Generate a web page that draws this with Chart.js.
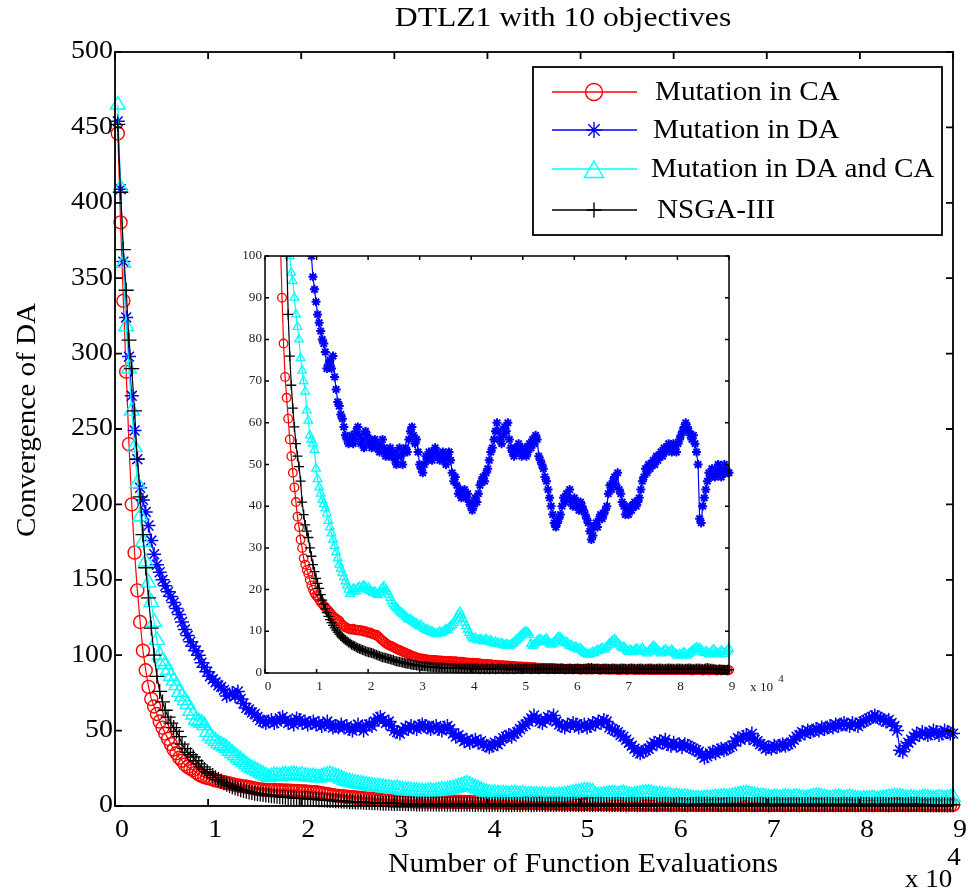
<!DOCTYPE html>
<html>
<head>
<meta charset="utf-8">
<script src="https://cdn.jsdelivr.net/npm/chart.js@4.4.1/dist/chart.umd.min.js"></script>
<style>
html, body { margin: 0; padding: 0; background: #fff; }
#wrap { position: relative; width: 979px; height: 891px; }
#main { position: absolute; left: 0; top: 0; }
#inset { position: absolute; left: 225px; top: 236px; }
</style>
</head>
<body>
<div id="wrap">
  <canvas id="main" width="979" height="891"></canvas>
  <canvas id="inset" width="575" height="470"></canvas>
</div>
<script>
// x en unidades de 10^4 evaluaciones, un punto cada 300 evaluaciones
const paso = 0.03;
const evaluaciones = Array.from({ length: 300 }, (_, i) => +(paso * (i + 1)).toFixed(2));

const ticksX = [0, 1, 2, 3, 4, 5, 6, 7, 8, 9];
const ticksY = [0, 50, 100, 150, 200, 250, 300, 350, 400, 450, 500];
const ticksYInset = [0, 10, 20, 30, 40, 50, 60, 70, 80, 90, 100];

const titulo = 'DTLZ1 with 10 objectives';
const tituloX = 'Number of Function Evaluations';
const tituloY = 'Convergence of DA';

const nombres = ['Mutation in CA', 'Mutation in DA', 'Mutation in DA and CA', 'NSGA-III'];

const mutCA = [
  446, 387, 335, 288, 240, 200, 168, 143, 122, 103,
  90, 79, 71, 66, 61, 56, 52, 48, 44.5, 41,
  37.5, 35, 32, 30, 27.5, 26, 24.7, 23.8, 22.3, 21,
  20, 19.2, 18.6, 18.2, 17.6, 17, 16.6, 16.1, 15.7, 15.3,
  15, 14.5, 14, 13.6, 13.3, 13, 12.8, 12.5, 12, 11.6,
  11.3, 11, 10.8, 10.6, 10.5, 10.4, 10.6, 10.3, 10.4, 10.2,
  10.3, 10.1, 10.2, 9.9, 10, 9.8, 9.6, 9.7, 9.4, 9.3,
  9.1, 9.2, 8.8, 8.5, 8.1, 7.8, 7.5, 7.2, 6.9, 6.7,
  6.5, 6.4, 6.1, 6.0, 5.8, 5.6, 5.5, 5.3, 5.1, 5.0,
  4.8, 4.6, 4.5, 4.3, 4.1, 4.0, 3.9, 3.7, 3.6, 3.5,
  3.5, 3.4, 3.3, 3.3, 3.2, 3.2, 3.1, 3.1, 3.0, 3.1,
  3.0, 3.0, 2.9, 3.0, 2.9, 2.9, 2.8, 2.9, 2.8, 2.8,
  2.8, 2.7, 2.8, 2.7, 2.7, 2.6, 2.7, 2.6, 2.6, 2.5,
  2.5, 2.5, 2.4, 2.5, 2.4, 2.3, 2.4, 2.3, 2.3, 2.2,
  2.2, 2.1, 2.2, 2.1, 2.0, 2.1, 2.0, 1.9, 2.0, 1.9,
  1.9, 1.8, 1.9, 1.8, 1.8, 1.7, 1.8, 1.7, 1.7, 1.6,
  1.7, 1.6, 1.6, 1.5, 1.6, 1.5, 1.5, 1.4, 1.5, 1.4,
  1.4, 1.4, 1.3, 1.4, 1.3, 1.3, 1.2, 1.3, 1.2, 1.2,
  1.2, 1.1, 1.2, 1.1, 1.1, 1.2, 1.1, 1.0, 1.1, 1.0,
  1.0, 1.1, 1.0, 0.9, 1.0, 1.0, 0.9, 1.0, 0.9, 0.9,
  1.0, 0.9, 0.9, 0.8, 0.9, 1.0, 0.9, 0.8, 0.9, 0.9,
  0.8, 0.9, 0.9, 1.0, 0.9, 0.8, 0.8, 0.9, 0.9, 0.8,
  0.9, 0.8, 0.8, 0.9, 0.8, 0.9, 0.8, 0.8, 0.7, 0.8,
  0.8, 0.9, 0.8, 0.7, 0.8, 0.8, 0.9, 0.8, 0.7, 0.8,
  0.8, 0.7, 0.8, 0.8, 0.7, 0.8, 0.8, 0.7, 0.8, 0.7,
  0.7, 0.8, 0.8, 0.7, 0.7, 0.8, 0.7, 0.8, 0.7, 0.7,
  0.8, 0.7, 0.7, 0.8, 0.7, 0.7, 0.7, 0.8, 0.7, 0.7,
  0.7, 0.7, 0.8, 0.7, 0.7, 0.6, 0.7, 0.7, 0.7, 0.8,
  0.7, 0.7, 0.6, 0.7, 0.7, 0.7, 0.6, 0.7, 0.7, 0.7,
  0.7, 0.6, 0.7, 0.7, 0.6, 0.7, 0.7, 0.7, 0.6, 0.7
];

const mutDA = [
  454, 409, 361, 324, 298, 272, 249, 230, 211, 203,
  195, 186, 176, 167, 160, 155, 150, 146, 142, 139,
  135, 131, 127, 122, 117, 113, 109, 106, 103, 100,
  95, 92, 89, 86, 84, 82, 80, 79, 77, 73,
  74, 75, 73, 76, 71, 68, 65, 64, 62, 61,
  59, 57, 56, 55, 56, 57, 55, 56, 58, 59,
  57, 55, 56, 54, 58, 57, 55, 56, 54, 55,
  56, 54, 55, 53, 54, 56, 54, 52, 53, 52,
  54, 52, 53, 51, 50, 52, 54, 52, 50, 53,
  54, 53, 56, 58, 59, 57, 55, 56, 53, 50,
  49, 48, 50, 52, 51, 53, 52, 51, 53, 54,
  53, 52, 51, 52, 53, 51, 50, 52, 53, 51,
  48, 46, 47, 45, 43, 44, 42, 43, 44, 42,
  43, 41, 40, 39, 40, 42, 41, 43, 45, 46,
  47, 46, 48, 49, 51, 53, 54, 56, 58, 60,
  58, 56, 55, 57, 59, 58, 60, 56, 54, 53,
  52, 54, 53, 55, 54, 52, 53, 54, 52, 53,
  55, 54, 56, 55, 57, 56, 52, 51, 50, 49,
  47, 46, 44, 42, 40, 38, 36, 35, 36, 37,
  38, 40, 42, 41, 43, 42, 44, 41, 40, 42,
  40, 41, 39, 41, 40, 39, 38, 37, 36, 34,
  32, 33, 35, 36, 35, 37, 38, 37, 38, 39,
  40, 43, 45, 44, 46, 47, 45, 48, 44, 43,
  41, 40, 38, 39, 38, 40, 39, 40, 41, 40,
  41, 42, 44, 46, 47, 49, 48, 50, 49, 50,
  51, 50, 52, 51, 52, 53, 52, 54, 53, 54,
  55, 54, 53, 55, 54, 53, 55, 56, 57, 58,
  59, 60, 59, 58, 57, 56, 57, 55, 53, 50,
  37, 36, 40, 42, 44, 46, 48, 47, 49, 48,
  47, 48, 50, 49, 47, 48, 50, 49, 48, 48
];

const mutDACA = [
  465, 410, 360, 318, 290, 262, 238, 214, 192, 175,
  162, 148, 135, 122, 110, 100, 96, 94, 90, 86,
  83, 80, 75.5, 72.5, 70, 67.5, 63, 60.5, 57, 56,
  55, 53.5, 49, 46.5, 44.5, 43, 41.5, 40.5, 39.5, 38.3,
  36.5, 35, 33.5, 32, 30.5, 29, 27.5, 26, 25, 24,
  23, 22, 21, 20, 19, 19.5, 20.2, 20, 19.6, 20.3,
  20.6, 20.1, 20.7, 20.9, 20.5, 20, 20.4, 19.7, 19.5, 19.2,
  19.5, 19, 18.7, 19.3, 19.9, 20.4, 20.8, 20.1, 19.5, 18.8,
  18, 17.2, 16.5, 16, 15.6, 15.2, 14.8, 14.5, 14.2, 13.8,
  13.5, 13.1, 12.8, 12.9, 12.5, 12.2, 12, 11.8, 11.4, 11.2,
  11.5, 10.9, 10.6, 10.3, 10.4, 10.1, 9.8, 9.9, 9.6, 9.5,
  9.3, 9.6, 9.9, 9.5, 9.8, 10.1, 10.5, 10.3, 10.8, 11.2,
  11.5, 12, 12.6, 13.3, 14, 14.6, 13.8, 12.9, 12.1, 11.3,
  10.4, 9.6, 9.0, 8.5, 8.2, 8.4, 8.0, 7.8, 8.1, 7.9,
  7.6, 7.8, 8.1, 7.7, 7.5, 7.8, 7.3, 7.1, 7.4, 7.0,
  7.2, 6.9, 7.1, 6.8, 6.6, 6.9, 6.7, 6.5, 6.8, 7.0,
  7.3, 7.7, 8.0, 8.4, 8.8, 9.1, 9.5, 9.8, 9.9, 9.6,
  9.2, 7.0, 6.5, 6.8, 7.2, 7.6, 7.9, 8.1, 7.8, 7.5,
  7.9, 8.2, 7.6, 7.1, 6.8, 7.0, 7.4, 7.8, 8.3, 8.6,
  8.4, 8.0, 7.6, 7.2, 7.4, 6.9, 6.5, 6.7, 6.3, 6.0,
  6.2, 5.8, 5.6, 5.9, 5.4, 5.0, 4.8, 4.6, 4.4, 4.5,
  4.7, 5.0, 4.8, 5.2, 5.5, 5.3, 5.7, 6.0, 5.6, 5.9,
  6.3, 6.7, 7.1, 7.4, 7.8, 8.1, 7.7, 7.2, 6.8, 6.4,
  6.0, 6.2, 5.8, 5.4, 5.1, 5.5, 5.3, 5.0, 5.4, 5.8,
  5.6, 5.2, 5.5, 5.9, 5.4, 5.0, 4.7, 5.1, 5.6, 6.0,
  6.4, 6.2, 5.8, 5.4, 5.0, 4.7, 5.0, 5.3, 5.6, 5.2,
  4.9, 5.2, 5.5, 5.1, 4.7, 4.4, 4.2, 4.5, 4.3, 4.6,
  4.9, 4.5, 4.2, 4.6, 4.9, 5.2, 5.5, 5.8, 6.1, 5.8,
  6.0, 5.5, 5.1, 4.8, 5.2, 4.9, 4.5, 4.8, 5.2, 5.6,
  5.2, 4.8, 4.5, 4.9, 5.3, 5.0, 4.6, 5.0, 5.4, 5.8
];

const nsga3 = [
  452, 407, 369, 342, 309, 290, 262, 230, 205, 180,
  158, 138, 118, 100, 86, 76, 69, 63.5, 59, 55,
  52, 49.5, 46, 41, 38, 35.5, 34, 32.5, 30, 28,
  26, 24.3, 22.7, 21.5, 20.3, 18.8, 17.5, 16.5, 15.4, 14.5,
  13.6, 12.8, 12.1, 11.4, 10.8, 10.3, 9.8, 9.3, 8.9, 8.5,
  8.2, 7.9, 7.6, 7.3, 7.1, 6.8, 6.6, 6.4, 6.2, 6.0,
  5.8, 5.7, 5.5, 5.4, 5.2, 5.1, 5.0, 4.9, 4.8, 4.7,
  4.5, 4.4, 4.2, 4.1, 3.9, 3.8, 3.7, 3.6, 3.5, 3.4,
  3.3, 3.2, 3.1, 2.9, 2.8, 2.7, 2.7, 2.6, 2.5, 2.4,
  2.3, 2.2, 2.2, 2.1, 2.0, 1.9, 1.9, 1.8, 1.8, 1.7,
  1.7, 1.6, 1.6, 1.6, 1.5, 1.5, 1.5, 1.4, 1.4, 1.4,
  1.4, 1.3, 1.3, 1.3, 1.3, 1.2, 1.3, 1.2, 1.2, 1.2,
  1.2, 1.1, 1.2, 1.1, 1.1, 1.2, 1.1, 1.1, 1.0, 1.1,
  1.1, 1.0, 1.1, 1.0, 1.0, 1.1, 1.0, 1.0, 0.9, 1.0,
  1.0, 0.9, 1.0, 1.0, 0.9, 1.0, 1.1, 1.0, 0.9, 1.0,
  1.0, 1.1, 1.0, 0.9, 1.0, 1.0, 0.9, 1.0, 1.1, 1.0,
  0.9, 1.0, 1.0, 1.1, 1.0, 0.9, 1.0, 1.0, 1.1, 1.0,
  1.0, 0.9, 1.0, 1.1, 1.0, 1.0, 0.9, 1.0, 1.0, 1.1,
  1.0, 1.0, 0.9, 1.0, 1.1, 1.0, 0.9, 1.0, 1.0, 1.0,
  1.1, 1.0, 1.0, 0.9, 1.0, 1.0, 1.1, 1.0, 0.9, 1.0,
  1.0, 1.1, 1.0, 1.0, 0.9, 1.0, 1.0, 1.1, 1.2, 1.1,
  1.2, 1.1, 1.0, 1.0, 1.1, 1.0, 0.9, 1.0, 1.0, 1.1,
  1.0, 1.0, 0.9, 1.0, 1.1, 1.0, 1.0, 0.9, 1.0, 1.0,
  1.1, 1.0, 1.0, 0.9, 1.0, 1.0, 1.1, 1.0, 1.0, 0.9,
  1.0, 1.0, 1.1, 1.0, 0.9, 1.0, 1.0, 1.0, 1.1, 1.0,
  1.0, 0.9, 1.0, 1.0, 1.1, 1.0, 1.0, 0.9, 1.0, 1.0,
  1.1, 1.0, 1.0, 1.0, 0.9, 1.0, 1.1, 1.0, 1.0, 1.0,
  0.9, 1.0, 1.0, 1.1, 1.0, 1.0, 0.9, 1.0, 1.0, 1.1,
  1.0, 1.0, 0.9, 1.0, 1.1, 1.2, 1.1, 1.0, 1.0, 0.9,
  0.9, 0.8, 0.8, 0.9, 0.8, 0.8, 0.8, 0.7, 0.8, 0.8
];

const FUENTE = '"Liberation Serif", "Times New Roman", serif';

// estilo de cada serie: color, marcador, radio grande / pequeño / leyenda, grosor del trazo, orden de dibujo
const estilos = [
  { color: '#ff0000', marca: 'circle',   r: 6.5, ri: 4.3, rl: 8.5, g: 1.4, gi: 1.3, orden: 3 },
  { color: '#0000ff', marca: 'star',     r: 7,   ri: 4.5, rl: 8,   g: 1.5, gi: 2.0, orden: 2 },
  { color: '#00ffff', marca: 'triangle', r: 8.5, ri: 5,   rl: 11,  g: 1.4, gi: 1.3, orden: 1 },
  { color: '#000000', marca: 'cross',    r: 7.5, ri: 5,   rl: 7.5, g: 1.3, gi: 1.3, orden: 0 }
];
const series = [mutCA, mutDA, mutDACA, nsga3];

function texto(ctx, str, x, y, size, align, sx, color) {
  ctx.save();
  ctx.translate(x, y);
  ctx.scale(sx || 1, 1);
  ctx.font = size + 'px ' + FUENTE;
  ctx.textAlign = align || 'center';
  ctx.textBaseline = 'middle';
  ctx.fillStyle = color || '#000';
  ctx.fillText(str, 0, 0);
  ctx.restore();
}

// marco con ticks hacia dentro en los cuatro lados (estilo MATLAB)
function marco(chart, largo, grosor) {
  const { ctx, chartArea: a, scales: { x, y } } = chart;
  ctx.save();
  ctx.strokeStyle = '#000';
  ctx.lineWidth = grosor;
  ctx.strokeRect(a.left, a.top, a.right - a.left, a.bottom - a.top);
  ctx.beginPath();
  x.ticks.forEach(t => {
    const px = x.getPixelForValue(t.value);
    ctx.moveTo(px, a.bottom); ctx.lineTo(px, a.bottom - largo);
    ctx.moveTo(px, a.top); ctx.lineTo(px, a.top + largo);
  });
  y.ticks.forEach(t => {
    const py = y.getPixelForValue(t.value);
    ctx.moveTo(a.left, py); ctx.lineTo(a.left + largo, py);
    ctx.moveTo(a.right, py); ctx.lineTo(a.right - largo, py);
  });
  ctx.stroke();
  ctx.restore();
}

function etiquetas(chart, size, sx, dx, dy, gap, color) {
  const { ctx, chartArea: a, scales: { x, y } } = chart;
  x.ticks.forEach(t => texto(ctx, String(t.value), x.getPixelForValue(t.value) + dx, a.bottom + dy, size, 'center', sx, color));
  y.ticks.forEach(t => texto(ctx, String(t.value), a.left - gap, y.getPixelForValue(t.value), size, 'right', sx, color));
}

function marcador(ctx, estilo, r, x, y) {
  ctx.save();
  ctx.strokeStyle = estilo.color;
  ctx.fillStyle = 'rgba(0,0,0,0)';
  ctx.lineWidth = 1.4;
  Chart.helpers.drawPoint(ctx, { pointStyle: estilo.marca, radius: r, rotation: 0, borderWidth: 1.4 }, x, y);
  ctx.restore();
}

function datasets(grande) {
  return series.map((s, k) => {
    const e = estilos[k];
    return {
      label: nombres[k],
      data: evaluaciones.map((x, i) => ({ x: x, y: s[i] })),
      borderColor: e.color,
      backgroundColor: 'rgba(0,0,0,0)',
      pointBorderColor: e.color,
      pointBackgroundColor: 'rgba(0,0,0,0)',
      pointStyle: e.marca,
      pointRadius: grande ? e.r : e.ri,
      pointBorderWidth: grande ? e.g : e.gi,
      borderWidth: 1.2,
      tension: 0,
      order: e.orden,
      clip: grande ? false : { left: 6, right: 8, top: 0, bottom: 6 }
    };
  });
}

function escalas(maxY, listaY, anchoY, altoX) {
  return {
    x: {
      type: 'linear', min: 0, max: 9,
      afterBuildTicks: s => { s.ticks = ticksX.map(v => ({ value: v })); },
      afterFit: s => { s.height = altoX; },
      ticks: { display: false }, grid: { display: false }, border: { display: false }
    },
    y: {
      type: 'linear', min: 0, max: maxY,
      afterBuildTicks: s => { s.ticks = listaY.map(v => ({ value: v })); },
      afterFit: s => { s.width = anchoY; },
      ticks: { display: false }, grid: { display: false }, border: { display: false }
    }
  };
}

const decoracionPrincipal = {
  id: 'decoracionPrincipal',
  afterDraw(chart) {
    const ctx = chart.ctx;
    marco(chart, 7, 1.8);
    etiquetas(chart, 24.5, 1.14, 7, 25, 2);
    texto(ctx, titulo, 563, 19, 27.5, 'center', 1.15);
    texto(ctx, tituloX, 583, 865, 26.5, 'center', 1.12);
    ctx.save();
    ctx.translate(28, 420);
    ctx.rotate(-Math.PI / 2);
    texto(ctx, tituloY, 0, 0, 26.5, 'center', 1.1);
    ctx.restore();
    texto(ctx, 'x 10', 905, 880, 25, 'left', 1.08);
    texto(ctx, '4', 954, 858, 25, 'center', 1.08);

    // leyenda
    ctx.save();
    ctx.fillStyle = '#fff';
    ctx.fillRect(533, 67, 409, 168);
    ctx.strokeStyle = '#000';
    ctx.lineWidth = 1.8;
    ctx.strokeRect(533, 67, 409, 168);
    ctx.restore();
    const filas = [92, 130, 169, 210];
    const xTexto = [655, 653, 651, 657];
    nombres.forEach((n, k) => {
      const e = estilos[k];
      ctx.save();
      ctx.strokeStyle = e.color;
      ctx.lineWidth = 1.5;
      ctx.beginPath();
      ctx.moveTo(552, filas[k]);
      ctx.lineTo(637, filas[k]);
      ctx.stroke();
      ctx.restore();
      marcador(ctx, e, e.rl, 594, filas[k] + (e.marca === 'triangle' ? 3 : 0));
      texto(ctx, n, xTexto[k], filas[k] + 1, 26.5, 'left', 1.1);
    });
  }
};

const decoracionInset = {
  id: 'decoracionInset',
  beforeDraw(chart) {
    const { ctx, chartArea: a } = chart;
    ctx.save();
    ctx.fillStyle = '#fff';
    ctx.fillRect(a.left, a.top, a.right - a.left, a.bottom - a.top);
    ctx.restore();
  },
  afterDraw(chart) {
    const ctx = chart.ctx;
    marco(chart, 4, 1.5);
    etiquetas(chart, 11.5, 1.15, 3, 14, 3, '#222');
    texto(ctx, 'x 10', 525, 452, 11.5, 'left', 1.15, '#222');
    texto(ctx, '4', 556, 443, 10, 'center', 1.1, '#222');
  }
};

const comunes = {
  responsive: false,
  animation: false,
  events: [],
  plugins: { legend: { display: false }, tooltip: { enabled: false } }
};

new Chart(document.getElementById('main'), {
  type: 'line',
  data: { datasets: datasets(true) },
  options: Object.assign({}, comunes, {
    layout: { padding: { left: 75, right: 26, top: 52, bottom: 45 } },
    scales: escalas(500, ticksY, 40, 40)
  }),
  plugins: [decoracionPrincipal]
});

new Chart(document.getElementById('inset'), {
  type: 'line',
  data: { datasets: datasets(false) },
  options: Object.assign({}, comunes, {
    layout: { padding: { left: 15, right: 71, top: 20, bottom: 13 } },
    scales: escalas(100, ticksYInset, 25, 20)
  }),
  plugins: [decoracionInset]
});
</script>
</body>
</html>
